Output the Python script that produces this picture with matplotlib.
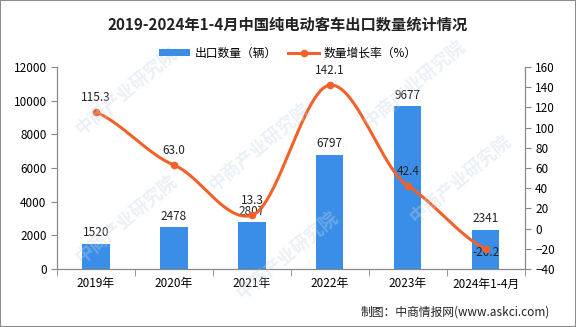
import numpy as np
import matplotlib.pyplot as plt
from matplotlib.lines import Line2D
from matplotlib.patches import Patch, Rectangle

plt.rcParams['font.family'] = ['Noto Sans CJK SC', 'DejaVu Sans']

years = ['2019年', '2020年', '2021年', '2022年', '2023年', '2024年1-4月']
export_qty = [1520, 2478, 2807, 6797, 9677, 2341]
growth = [115.3, 63.0, 13.3, 142.1, 42.4, -20.2]

bar_color = '#3b8ee8'
line_color = '#f0622a'


def smooth_curve(x, y, s=0.3, n=40):
    # cubic hermite segments through the points, soft tangents
    x = np.asarray(x, float)
    y = np.asarray(y, float)
    k = len(x)
    d = np.zeros(k)
    for i in range(k):
        lo = max(i - 1, 0)
        hi = min(i + 1, k - 1)
        d[i] = 2 * s * (y[hi] - y[lo]) / (x[hi] - x[lo])
    xs_all, ys_all = [], []
    for i in range(k - 1):
        t = np.linspace(0, 1, n)
        h = x[i + 1] - x[i]
        h00 = 2 * t**3 - 3 * t**2 + 1
        h10 = t**3 - 2 * t**2 + t
        h01 = -2 * t**3 + 3 * t**2
        h11 = t**3 - t**2
        xs_all.append(x[i] + t * h)
        ys_all.append(h00 * y[i] + h10 * h * d[i] + h01 * y[i + 1] + h11 * h * d[i + 1])
    return np.concatenate(xs_all), np.concatenate(ys_all)


fig = plt.figure(figsize=(5.76, 3.27), dpi=100)
fig.patches.append(Rectangle((0, 0), 1, 1, transform=fig.transFigure, fill=False,
                             edgecolor='#8c8c8c', linewidth=1.5))

# 水印
for wx, wy in [(0.22, 0.72), (0.45, 0.55), (0.72, 0.74), (0.22, 0.33), (0.50, 0.22),
               (0.80, 0.45)]:
    fig.text(wx, wy, '中商产业研究院', rotation=40, fontsize=13, color='#c5d6e6',
             alpha=0.35, ha='center', va='center', fontweight='bold')

ax = fig.add_axes([0.099, 0.177, 0.812, 0.618])
x = np.arange(len(years))
ax.bar(x, export_qty, width=0.35, color=bar_color, zorder=2)
for xi, v in zip(x, export_qty):
    ax.text(xi, v + 250, str(v), ha='center', va='bottom', fontsize=8.5, color='#222222', zorder=5)

ax.set_ylim(0, 12000)
ax.set_yticks(range(0, 12001, 2000))
ax.set_xlim(-0.5, len(years) - 0.5)
ax.set_xticks(x)
ax.set_xticklabels(years, fontsize=8.5)
ax.set_xticks(np.arange(-0.5, len(years), 1), minor=True)
ax.tick_params(axis='x', which='major', length=0, pad=6)
ax.tick_params(axis='x', which='minor', length=5, color='#888888')
ax.tick_params(axis='y', labelsize=8.5, length=4, color='#888888')
ax.spines['top'].set_visible(False)
for s in ['left', 'bottom', 'right']:
    ax.spines[s].set_color('#888888')

ax2 = ax.twinx()
xs, ys = smooth_curve(x, growth)
ax2.plot(xs, ys, color=line_color, linewidth=2.2, zorder=3)
ax2.plot(x, growth, 'o', color=line_color, markersize=4.5, zorder=4)
for xi, v in zip(x, growth):
    if v < 0:
        ax2.text(xi, v - 3, f'{v:.1f}', ha='center', va='center', fontsize=8.5, color='#222222')
    else:
        ax2.text(xi, v + 8, f'{v:.1f}', ha='center', va='bottom', fontsize=8.5, color='#222222')
ax2.set_ylim(-40, 160)
ax2.set_yticks(range(-40, 161, 20))
ax2.tick_params(axis='y', labelsize=8.5, length=4, color='#888888')
ax2.spines['top'].set_visible(False)
for s in ['left', 'bottom', 'right']:
    ax2.spines[s].set_color('#888888')

fig.text(0.5, 0.925, '2019-2024年1-4月中国纯电动客车出口数量统计情况', ha='center', va='center',
         fontsize=11, fontweight='bold', color='#222222')

handles = [Patch(facecolor=bar_color), Line2D([], [], color=line_color, linewidth=2.2,
                                               marker='o', markersize=4.5)]
fig.legend(handles, ['出口数量（辆）', '数量增长率（%）'], loc='center', bbox_to_anchor=(0.5, 0.838),
           ncol=2, frameon=False, fontsize=8.5, handlelength=2.6, handleheight=0.6,
           columnspacing=1.0, handletextpad=0.4)

fig.text(0.955, 0.045, '制图：中商情报网(www.askci.com)', ha='right', va='center',
         fontsize=8.5, color='#222222')

fig.savefig('out.png', dpi=100)
